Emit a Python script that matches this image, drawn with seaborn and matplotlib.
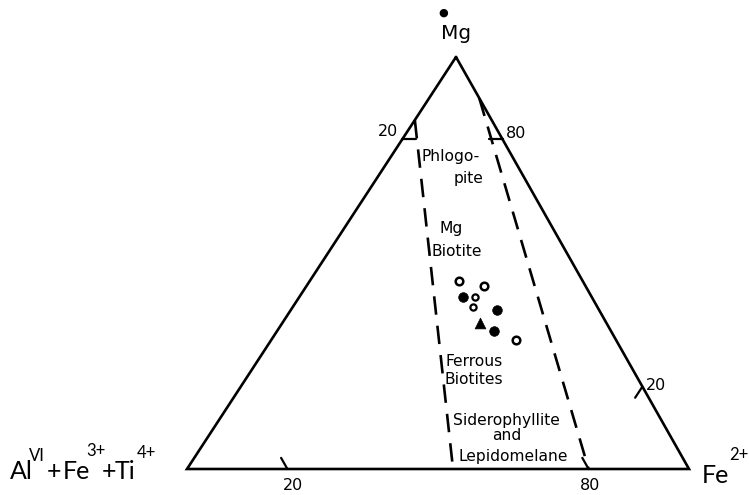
import matplotlib
matplotlib.use("Agg")
import matplotlib.pyplot as plt
import seaborn as sns
import pandas as pd
import numpy as np

# ---------------- data (ternary fractions: Mg, Al+Fe3+Ti, Fe2+) ----------------
mg = [0.457, 0.444, 0.418, 0.417, 0.392, 0.386, 0.355, 0.336, 0.313]
al = [0.247, 0.202, 0.256, 0.233, 0.248, 0.204, 0.252, 0.232, 0.200]
fe = [0.296, 0.354, 0.326, 0.350, 0.360, 0.410, 0.393, 0.432, 0.487]
kind = ["open", "open", "filled", "small", "small", "filled", "triangle", "filled", "open"]

# classification boundaries (dashed), endpoints as ternary fractions (Mg, Al, Fe)
left_bound = [(0.847, 0.153, 0.0), (0.0, 0.47, 0.53)]
right_bound = [(0.90, 0.0, 0.10), (0.0, 0.20, 0.80)]

tick_labels = ["20", "80"]
field_labels = [
    ("Phlogo-", 451, 157), ("pite", 469, 179),
    ("Mg", 451, 229), ("Biotite", 457, 252),
    ("Ferrous", 474, 362), ("Biotites", 474, 379),
    ("Siderophyllite", 506, 420), ("and", 507, 435), ("Lepidomelane", 513, 457),
]
# corner label pieces: (text, x, baseline y, superscript?)
left_corner = [("Al", 10, 479, False), ("VI", 29, 461, True), ("+", 47, 479, False),
               ("Fe", 63, 479, False), ("3+", 86, 456, True), ("+", 102, 479, False),
               ("Ti", 115, 479, False), ("4+", 137, 458, True)]
right_corner = [("Fe", 702, 483, False), ("2+", 729, 460, True)]

# ---------------- geometry (pixel frame of the scanned triangle) ----------------
A_MG = np.array([456.0, 57.0])
A_AL = np.array([187.0, 469.0])
A_FE = np.array([689.0, 469.0])


def tern(m, a, f):
    m, a, f = np.asarray(m, float), np.asarray(a, float), np.asarray(f, float)
    s = m + a + f
    x = (m * A_MG[0] + a * A_AL[0] + f * A_FE[0]) / s
    y = (m * A_MG[1] + a * A_AL[1] + f * A_FE[1]) / s
    return x, y


sns.set_style("white")
plt.rcParams["font.family"] = ["DejaVu Sans"]
plt.rcParams["text.color"] = "black"

fig = plt.figure(figsize=(7.49, 4.95), dpi=100)
ax = fig.add_axes([0, 0, 1, 1])
ax.set_xlim(0, 749)
ax.set_ylim(495, 0)
ax.axis("off")

LW = 1.9
# triangle
tx, ty = tern([1, 0, 0, 1], [0, 1, 0, 0], [0, 0, 1, 0])
ax.plot(tx, ty, color="black", lw=LW, solid_joinstyle="miter")

# dashed boundaries
for b in (left_bound, right_bound):
    bx, by = tern(*zip(*b))
    ln, = ax.plot(bx, by, color="black", lw=LW)
    ln.set_dashes((7, 4.2))

# ticks
d = 0.027
ticks = [
    ((0.8, 0.2, 0.0), (0.8, 0.2 - d, d)),        # left edge, 20
    ((0.8, 0.0, 0.2), (0.8, d, 0.2 - d)),        # right edge, 80
    ((0.2, 0.0, 0.8), (0.2 - d, d, 0.8)),        # right edge, 20
    ((0.0, 0.8, 0.2), (d, 0.8, 0.2 - d)),        # bottom, 20
    ((0.0, 0.2, 0.8), (d, 0.2, 0.8 - d)),        # bottom, 80
]
for p0, p1 in ticks:
    kx, ky = tern(*zip(p0, p1))
    ax.plot(kx, ky, color="black", lw=1.6)

# tick labels
fs_num = 11.5
ax.text(388, 131, tick_labels[0], fontsize=fs_num, ha="center", va="center")
ax.text(516, 133, tick_labels[1], fontsize=fs_num, ha="center", va="center")
ax.text(656, 386, tick_labels[0], fontsize=fs_num, ha="center", va="center")
ax.text(293, 485, tick_labels[0], fontsize=fs_num, ha="center", va="center")
ax.text(590, 485, tick_labels[1], fontsize=fs_num, ha="center", va="center")

# field labels
for t, x, y in field_labels:
    ax.text(x, y, t, fontsize=11.2, ha="center", va="center")

# apex label
ax.text(456, 39, "Mg", fontsize=14.5, ha="center", va="baseline", fontweight="medium")
ax.text(443, 13, "\u25CF", fontsize=8, ha="center", va="center")

# corner labels
for pieces in (left_corner, right_corner):
    for t, x, y, sup in pieces:
        ax.text(x, y, t, fontsize=12 if sup else 18, family="Lato",
                ha="left", va="baseline")

# data points
px, py = tern(mg, al, fe)
df = pd.DataFrame({"x": px, "y": py, "kind": kind})
styles = {
    "open": dict(marker="o", s=30, facecolor="white", edgecolor="black", linewidth=1.8),
    "small": dict(marker="o", s=20, facecolor="white", edgecolor="black", linewidth=1.6),
    "filled": dict(marker="o", s=48, facecolor="black", edgecolor="black", linewidth=0.5),
    "triangle": dict(marker="^", s=60, facecolor="black", edgecolor="black", linewidth=0.5),
}
for k, st in styles.items():
    sub = df[df["kind"] == k]
    sns.scatterplot(data=sub, x="x", y="y", ax=ax, legend=False, zorder=5, **st)

ax.set_xlim(0, 749)
ax.set_ylim(495, 0)
ax.axis("off")
fig.savefig("out.png", dpi=100)
